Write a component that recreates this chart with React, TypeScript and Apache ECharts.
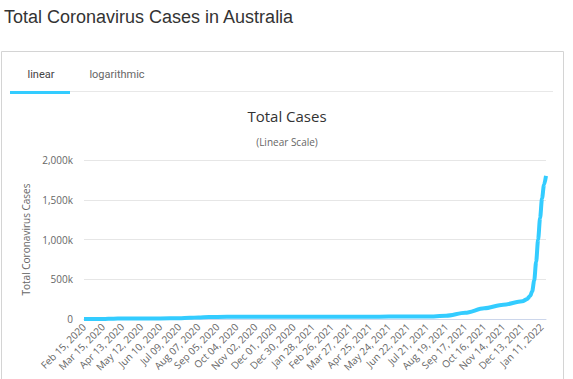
import React, { useEffect, useRef } from "react";
import * as echarts from "echarts";

// ---- data ----
const caseDates = [
  "2020-02-15", "2020-03-01", "2020-03-15", "2020-03-31", "2020-04-13", "2020-05-12",
  "2020-06-10", "2020-07-09", "2020-07-25", "2020-08-07", "2020-08-23", "2020-09-05",
  "2020-10-04", "2020-11-02", "2020-12-01", "2020-12-30", "2021-01-28", "2021-02-26",
  "2021-03-27", "2021-04-25", "2021-05-24", "2021-06-22", "2021-07-21", "2021-08-19",
  "2021-09-17", "2021-10-16", "2021-11-14", "2021-12-13", "2021-12-20", "2021-12-25",
  "2021-12-28", "2021-12-31", "2022-01-03", "2022-01-06", "2022-01-09", "2022-01-12",
  "2022-01-15", "2022-01-18",
];
const totalCases = [
  15, 30, 300, 4700, 6400, 6970,
  7270, 9000, 14400, 20300, 24600, 26300,
  27200, 27600, 27900, 28400, 28800, 28980,
  29200, 29600, 30000, 30400, 32200, 40000,
  78000, 135000, 180000, 222000, 250000, 290000,
  350000, 480000, 720000, 1000000, 1270000, 1520000,
  1690000, 1800000,
];
const xTickLabels = [
  "Feb 15, 2020", "Mar 15, 2020", "Apr 13, 2020", "May 12, 2020", "Jun 10, 2020",
  "Jul 09, 2020", "Aug 07, 2020", "Sep 05, 2020", "Oct 04, 2020", "Nov 02, 2020",
  "Dec 01, 2020", "Dec 30, 2020", "Jan 28, 2021", "Feb 26, 2021", "Mar 27, 2021",
  "Apr 25, 2021", "May 24, 2021", "Jun 22, 2021", "Jul 21, 2021", "Aug 19, 2021",
  "Sep 17, 2021", "Oct 16, 2021", "Nov 14, 2021", "Dec 13, 2021", "Jan 11, 2022",
];
const yTickLabels = ["0", "500k", "1,000k", "1,500k", "2,000k"];

const START_DATE = "2020-02-15";
const END_DATE = "2022-01-18";
const TICK_DAYS = 29;
const Y_STEP = 500000;

const DAY_MS = 86400000;
const dayOf = (d: string) => Math.round((Date.parse(d) - Date.parse(START_DATE)) / DAY_MS);

const FONT = "'Open Sans', 'DejaVu Sans', sans-serif";

export default function App() {
  const ref = useRef<HTMLDivElement>(null);

  useEffect(() => {
    if (!ref.current) return;
    const chart = echarts.init(ref.current, undefined, { renderer: "svg" });
    const seriesData = caseDates.map((d, i) => [dayOf(d), totalCases[i]]);

    chart.setOption({
      animation: false,
      backgroundColor: "#ffffff",
      title: [
        {
          text: "Total Cases",
          left: 282,
          top: 103,
          textAlign: "center",
          textStyle: { fontFamily: FONT, fontSize: 15, fontWeight: "normal", color: "#333333" },
        },
        {
          text: "(Linear Scale)",
          left: 282,
          top: 132,
          textAlign: "center",
          textStyle: { fontFamily: FONT, fontSize: 10, fontWeight: "normal", color: "#666666" },
        },
      ],
      graphic: [
        {
          type: "text",
          x: 4,
          y: 17,
          style: {
            text: "Total Coronavirus Cases in Australia",
            fontFamily: "'Liberation Sans', Arial, sans-serif",
            fontSize: 18,
            fill: "#333333",
            verticalAlign: "middle",
            align: "left",
          },
        },
        {
          type: "rect",
          shape: { x: 1.5, y: 51.5, width: 562, height: 400 },
          style: { fill: "none", stroke: "#d4d4d4", lineWidth: 1 },
        },
        {
          type: "rect",
          shape: { x: 10, y: 91, width: 543, height: 1 },
          style: { fill: "#e8e8e8" },
        },
        {
          type: "rect",
          shape: { x: 10, y: 91, width: 60, height: 3 },
          style: { fill: "#33ccff" },
        },
        {
          type: "text",
          x: 41,
          y: 74,
          style: {
            text: "linear",
            fontFamily: "Roboto, Arial, sans-serif",
            fontSize: 11,
            fill: "#444444",
            align: "center",
            verticalAlign: "middle",
          },
        },
        {
          type: "text",
          x: 117,
          y: 74,
          style: {
            text: "logarithmic",
            fontFamily: "Roboto, Arial, sans-serif",
            fontSize: 11,
            fill: "#666666",
            align: "center",
            verticalAlign: "middle",
          },
        },
      ],
      grid: { left: 84, right: 27, top: 160, bottom: 60, containLabel: false },
      xAxis: {
        type: "value",
        min: 0,
        max: dayOf(END_DATE),
        interval: TICK_DAYS,
        axisLine: { show: true, lineStyle: { color: "#ccd6eb", width: 1 } },
        axisTick: { show: false },
        splitLine: { show: false },
        axisLabel: {
          rotate: 45,
          margin: 6,
          showMaxLabel: false,
          fontFamily: FONT,
          fontSize: 10,
          color: "#666666",
          formatter: (v: number) => {
            const i = Math.round(v / TICK_DAYS);
            return v % TICK_DAYS === 0 && xTickLabels[i] ? xTickLabels[i] : "";
          },
        },
      },
      yAxis: {
        type: "value",
        min: 0,
        max: Y_STEP * (yTickLabels.length - 1),
        interval: Y_STEP,
        name: "Total Coronavirus Cases",
        nameLocation: "middle",
        nameGap: 52,
        nameTextStyle: { fontFamily: FONT, fontSize: 10, color: "#666666" },
        axisLine: { show: false },
        axisTick: { show: false },
        splitLine: { lineStyle: { color: "#e6e6e6", width: 1 } },
        axisLabel: {
          margin: 11,
          fontFamily: FONT,
          fontSize: 10,
          color: "#666666",
          formatter: (v: number) => yTickLabels[Math.round(v / Y_STEP)] ?? "",
        },
      },
      series: [
        {
          type: "line",
          data: seriesData,
          showSymbol: false,
          smooth: 0.3,
          smoothMonotone: "x",
          lineStyle: { color: "#33ccff", width: 4 },
          itemStyle: { color: "#33ccff" },
        },
      ],
    });

    return () => chart.dispose();
  }, []);

  return (
    <div
      ref={ref}
      style={{ position: "fixed", left: 0, top: 0, width: 573, height: 379 }}
    />
  );
}
